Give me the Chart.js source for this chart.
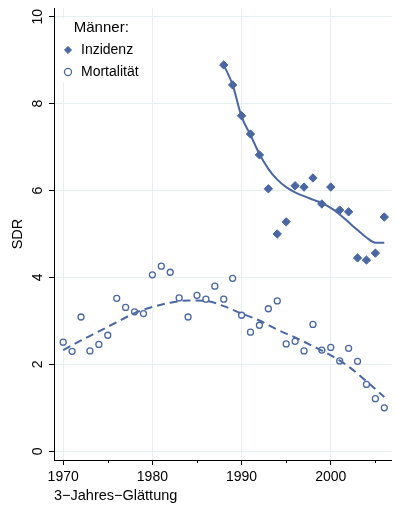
<!DOCTYPE html>
<html lang="de">
<head>
<meta charset="utf-8">
<title>SDR Männer</title>
<script src="https://cdn.jsdelivr.net/npm/chart.js@4.4.1/dist/chart.umd.min.js"></script>
<style>
  html, body { margin: 0; padding: 0; background: #fff; }
  #wrap { width: 397px; height: 508px; }
</style>
</head>
<body>
<div id="wrap"><canvas id="sdrChart" width="397" height="508"></canvas></div>
<script>
'use strict';

// Werte
var inzJahre = [1988, 1989, 1990, 1991, 1992, 1993, 1994, 1995, 1996, 1997,
  1998, 1999, 2000, 2001, 2002, 2003, 2004, 2005, 2006];
var inzidenz = [8.89, 8.43, 7.72, 7.30, 6.82, 6.04, 5.00, 5.28, 6.11, 6.08,
  6.29, 5.69, 6.08, 5.55, 5.51, 4.45, 4.40, 4.56, 5.39];
var inzGlatt = [8.89, 8.43, 7.70, 7.28, 6.84, 6.50, 6.25, 6.08, 5.96, 5.87,
  5.79, 5.71, 5.60, 5.45, 5.27, 5.09, 4.92, 4.80, 4.80];

var mortJahre = [1970, 1971, 1972, 1973, 1974, 1975, 1976, 1977, 1978, 1979,
  1980, 1981, 1982, 1983, 1984, 1985, 1986, 1987, 1988, 1989,
  1990, 1991, 1992, 1993, 1994, 1995, 1996, 1997, 1998, 1999,
  2000, 2001, 2002, 2003, 2004, 2005, 2006];
var mortalitaet = [2.51, 2.30, 3.09, 2.31, 2.46, 2.67, 3.52, 3.31, 3.21, 3.17,
  4.06, 4.26, 4.12, 3.53, 3.09, 3.59, 3.50, 3.80, 3.50, 3.98,
  3.13, 2.74, 2.90, 3.28, 3.46, 2.47, 2.53, 2.31, 2.92, 2.33,
  2.39, 2.08, 2.37, 2.07, 1.54, 1.21, 1.00];
var mortKurveJahre = [1970, 1972, 1974, 1976, 1978, 1980, 1982, 1984, 1986, 1988,
  1990, 1992, 1994, 1996, 1998, 2000, 2002, 2004, 2006];
var mortKurve = [2.33, 2.55, 2.76, 2.97, 3.18, 3.32, 3.42, 3.47, 3.46, 3.34,
  3.17, 3.01, 2.80, 2.62, 2.42, 2.21, 1.95, 1.61, 1.25];

var yTicks = [0, 2, 4, 6, 8, 10];
var xTicks = [1970, 1980, 1990, 2000];
var xMinorTicks = [1975, 1985, 1995, 2005];

var blau = '#4a67a3';
var gitter = '#e7eff1';
var schrift = '"Liberation Sans", Arial, Helvetica, sans-serif';

function paare(xs, ys) {
  return xs.map(function (x, i) { return { x: x, y: ys[i] }; });
}

// weisser Hintergrund hinter der Legende (verdeckt das Gitter), Legende neu zeichnen
var legendenFeld = {
  id: 'legendenFeld',
  beforeDatasetsDraw: function (chart) {
    var ctx = chart.ctx;
    var area = chart.chartArea;
    ctx.save();
    ctx.fillStyle = '#fff';
    ctx.fillRect(area.left + 1, area.top + 10, 96, 65);
    ctx.restore();
    chart.legend.draw();
  }
};

// y-Beschriftung gedreht + kleine Striche auf der x-Achse
var achsenExtras = {
  id: 'achsenExtras',
  afterDraw: function (chart) {
    var ctx = chart.ctx;
    var sx = chart.scales.x;
    var sy = chart.scales.y;
    var area = chart.chartArea;

    ctx.save();
    ctx.fillStyle = '#000';
    ctx.font = '14px ' + schrift;
    ctx.textAlign = 'center';
    ctx.textBaseline = 'alphabetic';
    yTicks.forEach(function (v) {
      ctx.save();
      ctx.translate(area.left - 12, sy.getPixelForValue(v));
      ctx.rotate(-Math.PI / 2);
      ctx.fillText(String(v), 0, 0);
      ctx.restore();
    });

    ctx.strokeStyle = '#000';
    ctx.lineWidth = 1;
    xMinorTicks.forEach(function (v) {
      var px = Math.round(sx.getPixelForValue(v)) + 0.5;
      ctx.beginPath();
      ctx.moveTo(px, area.bottom);
      ctx.lineTo(px, area.bottom + 3);
      ctx.stroke();
    });
    ctx.restore();
  }
};

Chart.defaults.font.family = schrift;
Chart.defaults.color = '#000';

new Chart(document.getElementById('sdrChart').getContext('2d'), {
  type: 'scatter',
  data: {
    datasets: [
      {
        label: 'Inzidenz',
        data: paare(inzJahre, inzidenz),
        pointStyle: 'rectRot',
        pointRadius: 4.2,
        backgroundColor: blau,
        borderColor: blau,
        borderWidth: 1,
        showLine: false
      },
      {
        label: 'Mortalität',
        data: paare(mortJahre, mortalitaet),
        pointStyle: 'circle',
        pointRadius: 3,
        backgroundColor: 'rgba(0,0,0,0)',
        borderColor: blau,
        borderWidth: 1.3,
        showLine: false
      },
      {
        label: 'Inzidenz geglättet',
        data: paare(inzJahre, inzGlatt),
        showLine: true,
        pointRadius: 0,
        borderColor: blau,
        borderWidth: 2,
        cubicInterpolationMode: 'monotone'
      },
      {
        label: 'Mortalität geglättet',
        data: paare(mortKurveJahre, mortKurve),
        showLine: true,
        pointRadius: 0,
        borderColor: blau,
        borderWidth: 2,
        borderDash: [8, 5],
        cubicInterpolationMode: 'monotone'
      }
    ]
  },
  options: {
    responsive: false,
    devicePixelRatio: 1,
    animation: false,
    events: [],
    layout: { padding: { top: 8, right: 1, left: 0, bottom: 0 } },
    plugins: {
      tooltip: { enabled: false },
      legend: {
        position: 'chartArea',
        align: 'start',
        labels: {
          usePointStyle: true,
          boxWidth: 12,
          boxHeight: 5,
          padding: 8,
          font: { size: 14 },
          color: '#000',
          filter: function (item) { return item.datasetIndex < 2; }
        },
        title: {
          display: true,
          text: 'Männer:',
          position: 'center',
          color: '#000',
          font: { size: 15, lineHeight: 1 },
          padding: { top: 20, bottom: 0 }
        }
      }
    },
    scales: {
      x: {
        type: 'linear',
        min: 1968.97,
        max: 2006.83,
        afterBuildTicks: function (s) {
          s.ticks = xTicks.map(function (v) { return { value: v }; });
        },
        afterFit: function (s) { s.height = 48; },
        grid: { color: gitter, tickColor: '#000', tickLength: 5, lineWidth: 1 },
        border: { color: '#000', width: 1 },
        ticks: {
          padding: 4,
          maxRotation: 0,
          autoSkip: false,
          font: { size: 14 },
          color: '#000',
          callback: function (v) { return String(v); }
        },
        title: {
          display: true,
          text: '3−Jahres−Glättung',
          align: 'start',
          color: '#000',
          font: { size: 14.5 },
          padding: { top: 0, bottom: 3 }
        }
      },
      y: {
        min: -0.2,
        max: 10.2,
        afterBuildTicks: function (s) {
          s.ticks = yTicks.map(function (v) { return { value: v }; });
        },
        afterFit: function (s) { s.width = 54; },
        grid: { color: gitter, tickColor: '#000', tickLength: 5, lineWidth: 1 },
        border: { color: '#000', width: 1 },
        ticks: { display: false },
        title: {
          display: true,
          text: 'SDR',
          color: '#000',
          font: { size: 14.5 },
          padding: { top: 9, bottom: 0 }
        }
      }
    }
  },
  plugins: [legendenFeld, achsenExtras]
});
</script>
</body>
</html>
